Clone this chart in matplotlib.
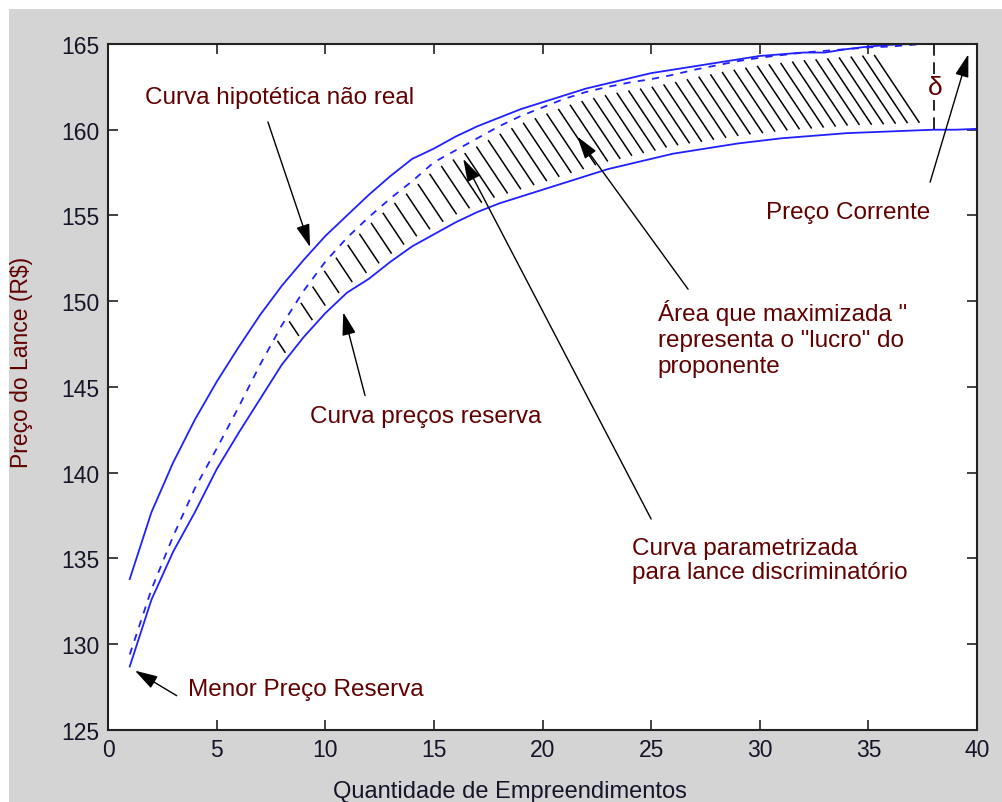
#!/usr/bin/python3
"""
Curvas de preco do lance vs quantidade de empreendimentos.
"""
import matplotlib
matplotlib.use('Agg')
import matplotlib.pyplot as plt
from matplotlib.patches import Rectangle
from matplotlib.collections import LineCollection
import numpy as np

# Curva hipotetica nao real (solida superior)
x_upper = list(range(1, 41))
y_upper = [133.8, 137.7, 140.6, 143.1, 145.3, 147.3, 149.2, 150.9, 152.4, 153.8,
           155.0, 156.2, 157.3, 158.3, 158.9, 159.6, 160.2, 160.7, 161.2, 161.6,
           162.0, 162.4, 162.7, 163.0, 163.3, 163.5, 163.7, 163.9, 164.1, 164.3,
           164.4, 164.5, 164.5, 164.7, 164.85, 164.95, 165.0, 165.0, 165.0, 165.0]

# Curva precos reserva (solida inferior)
x_lower = list(range(1, 41))
y_lower = [128.7, 132.6, 135.4, 137.7, 140.2, 142.3, 144.3, 146.3, 147.9, 149.3,
           150.5, 151.3, 152.3, 153.2, 153.9, 154.6, 155.2, 155.7, 156.1, 156.5,
           156.9, 157.3, 157.7, 158.0, 158.3, 158.6, 158.8, 159.0, 159.2, 159.35,
           159.5, 159.6, 159.7, 159.8, 159.85, 159.9, 159.95, 160.0, 160.0, 160.05]

# Curva parametrizada para lance discriminatorio (tracejada)
x_param = list(range(1, 38)) + [37.5]
y_param = [129.4, 133.2, 136.3, 139.1, 141.4, 143.8, 146.3, 148.6, 150.6, 152.3,
           153.7, 154.9, 156.0, 157.0, 158.1, 158.8, 159.5, 160.2, 160.8, 161.3,
           161.8, 162.2, 162.5, 162.75, 162.95, 163.2, 163.5, 163.75, 164.0, 164.2,
           164.35, 164.5, 164.6, 164.7, 164.8, 164.85, 164.95, 165.0]

# Faixa hachurada ("lucro" do proponente)
hatch_start, hatch_end = 7.8, 37.4
delta_x = 38
x_ticks = [0, 5, 10, 15, 20, 25, 30, 35, 40]
y_ticks = [125, 130, 135, 140, 145, 150, 155, 160, 165]

TEXT_RED = '#600000'
TEXT_DARK = '#15152a'
BLUE = '#2020ff'
HATCH_STEP_PX = 11.7    # espacamento horizontal das hachuras
HATCH_SLOPE = 1.5       # inclinacao das hachuras (pixels)
HATCH_GAP = 0.45        # folga entre hachura e curvas


def format_plotting():
    plt.rcParams['font.family'] = ['Liberation Sans', 'DejaVu Sans']
    plt.rcParams['font.size'] = 17
    plt.rcParams['xtick.labelsize'] = 16.5
    plt.rcParams['ytick.labelsize'] = 16.5
    plt.rcParams['xtick.direction'] = 'in'
    plt.rcParams['ytick.direction'] = 'in'
    plt.rcParams['xtick.major.size'] = 7
    plt.rcParams['ytick.major.size'] = 7
    plt.rcParams['xtick.major.width'] = 1.2
    plt.rcParams['ytick.major.width'] = 1.2
    plt.rcParams['axes.linewidth'] = 1.5


def annotate(ax, xy, xytext):
    ax.annotate('', xy=xy, xytext=xytext,
                arrowprops=dict(arrowstyle='-|>,head_length=1.0,head_width=0.3',
                                color='black', lw=1.0, mutation_scale=14,
                                shrinkA=0, shrinkB=0))


def hatch_lines(ax, fig):
    # segmentos inclinados entre a curva tracejada e a curva de reserva
    bbox = ax.get_window_extent(fig.canvas.get_renderer())
    x0, x1 = ax.get_xlim()
    y0, y1 = ax.get_ylim()
    px_x = bbox.width / (x1 - x0)
    px_y = bbox.height / (y1 - y0)
    step = HATCH_STEP_PX / px_x
    t = np.linspace(0, 250, 1000)
    segs = []
    for xs in np.arange(hatch_start, hatch_end, step):
        ys = np.interp(xs, x_param, y_param) - HATCH_GAP
        xt = xs + t / px_x
        yt = ys - HATCH_SLOPE * t / px_y
        floor = np.interp(xt, x_lower, y_lower) + HATCH_GAP
        hit = np.nonzero(yt <= floor)[0]
        if len(hit) == 0:
            continue
        k = hit[0]
        if k < 2 or xt[k] > hatch_end:
            continue
        segs.append([(xs, ys), (xt[k], yt[k])])
    ax.add_collection(LineCollection(segs, colors='black', linewidths=1.1))


def plot_lance():
    format_plotting()
    fig = plt.figure(figsize=(10.03, 8.03), dpi=100)
    fig.patch.set_facecolor('white')
    fig.add_artist(Rectangle((9 / 1003, 0), 1, (803 - 10) / 803,
                             transform=fig.transFigure, facecolor='#d4d4d4',
                             edgecolor='none', zorder=-10))
    ax = fig.add_axes([0.1077, 0.0897, 0.8664, 0.8543])
    ax.set_facecolor('white')
    ax.set_xlim(0, 40)
    ax.set_ylim(125, 165)

    ax.plot(x_upper, y_upper, color=BLUE, lw=1.3)
    ax.plot(x_lower, y_lower, color=BLUE, lw=1.3)
    ax.plot(x_param, y_param, color=BLUE, lw=1.3, dashes=(4, 4))

    hatch_lines(ax, fig)

    # delta entre preco corrente e reserva
    ax.plot([delta_x, delta_x], [165, np.interp(delta_x, x_lower, y_lower)],
            color='black', lw=1.2, dashes=(7, 4))
    ax.text(38.07, 162.5, '\u03b4', ha='center', va='center', fontsize=19,
            color=TEXT_RED, bbox=dict(facecolor='white', edgecolor='none', pad=1))

    ax.text(1.7, 161.9, 'Curva hipotética não real', color=TEXT_RED,
            fontsize=17.5, va='center', ha='left')
    annotate(ax, (9.30, 153.16), (7.36, 160.45))

    ax.text(9.3, 143.33, 'Curva preços reserva', color=TEXT_RED,
            fontsize=17.5, va='center', ha='left')
    annotate(ax, (10.83, 149.35), (11.83, 144.5))

    ax.text(25.3, 150.13, 'Área que maximizada "\nrepresenta o "lucro" do\nproponente',
            color=TEXT_RED, fontsize=17.5, va='top', ha='left', linespacing=1.25)
    annotate(ax, (21.6, 159.6), (26.7, 150.7))

    ax.text(24.1, 136.25, 'Curva parametrizada\npara lance discriminatório',
            color=TEXT_RED, fontsize=17.5, va='top', ha='left', linespacing=1.1)
    annotate(ax, (16.35, 158.3), (25.0, 137.3))

    ax.text(30.3, 155.2, 'Preço Corrente', color=TEXT_RED,
            fontsize=17.5, va='center', ha='left')
    annotate(ax, (39.6, 164.4), (37.84, 156.94))

    ax.text(3.68, 127.4, 'Menor Preço Reserva', color=TEXT_RED,
            fontsize=17.5, va='center', ha='left')
    annotate(ax, (1.24, 128.46), (3.16, 127.0))

    ax.set_xticks(x_ticks)
    ax.set_yticks(y_ticks)
    ax.tick_params(top=True, right=True, colors='#222222', labelcolor=TEXT_DARK)
    ax.tick_params(axis='x', pad=6)
    ax.tick_params(axis='y', pad=6)
    for sp in ax.spines.values():
        sp.set_color('#222222')

    fig.text(510 / 1003, 11 / 803, 'Quantidade de Empreendimentos',
             ha='center', va='center', fontsize=17, color=TEXT_DARK)
    fig.text(22 / 1003, (803 - 362) / 803, 'Preço do Lance (R$)',
             ha='center', va='center', rotation=90, fontsize=16.5, color=TEXT_RED)

    fig.savefig('out.png', dpi=100)


if __name__ == "__main__":
    plot_lance()
